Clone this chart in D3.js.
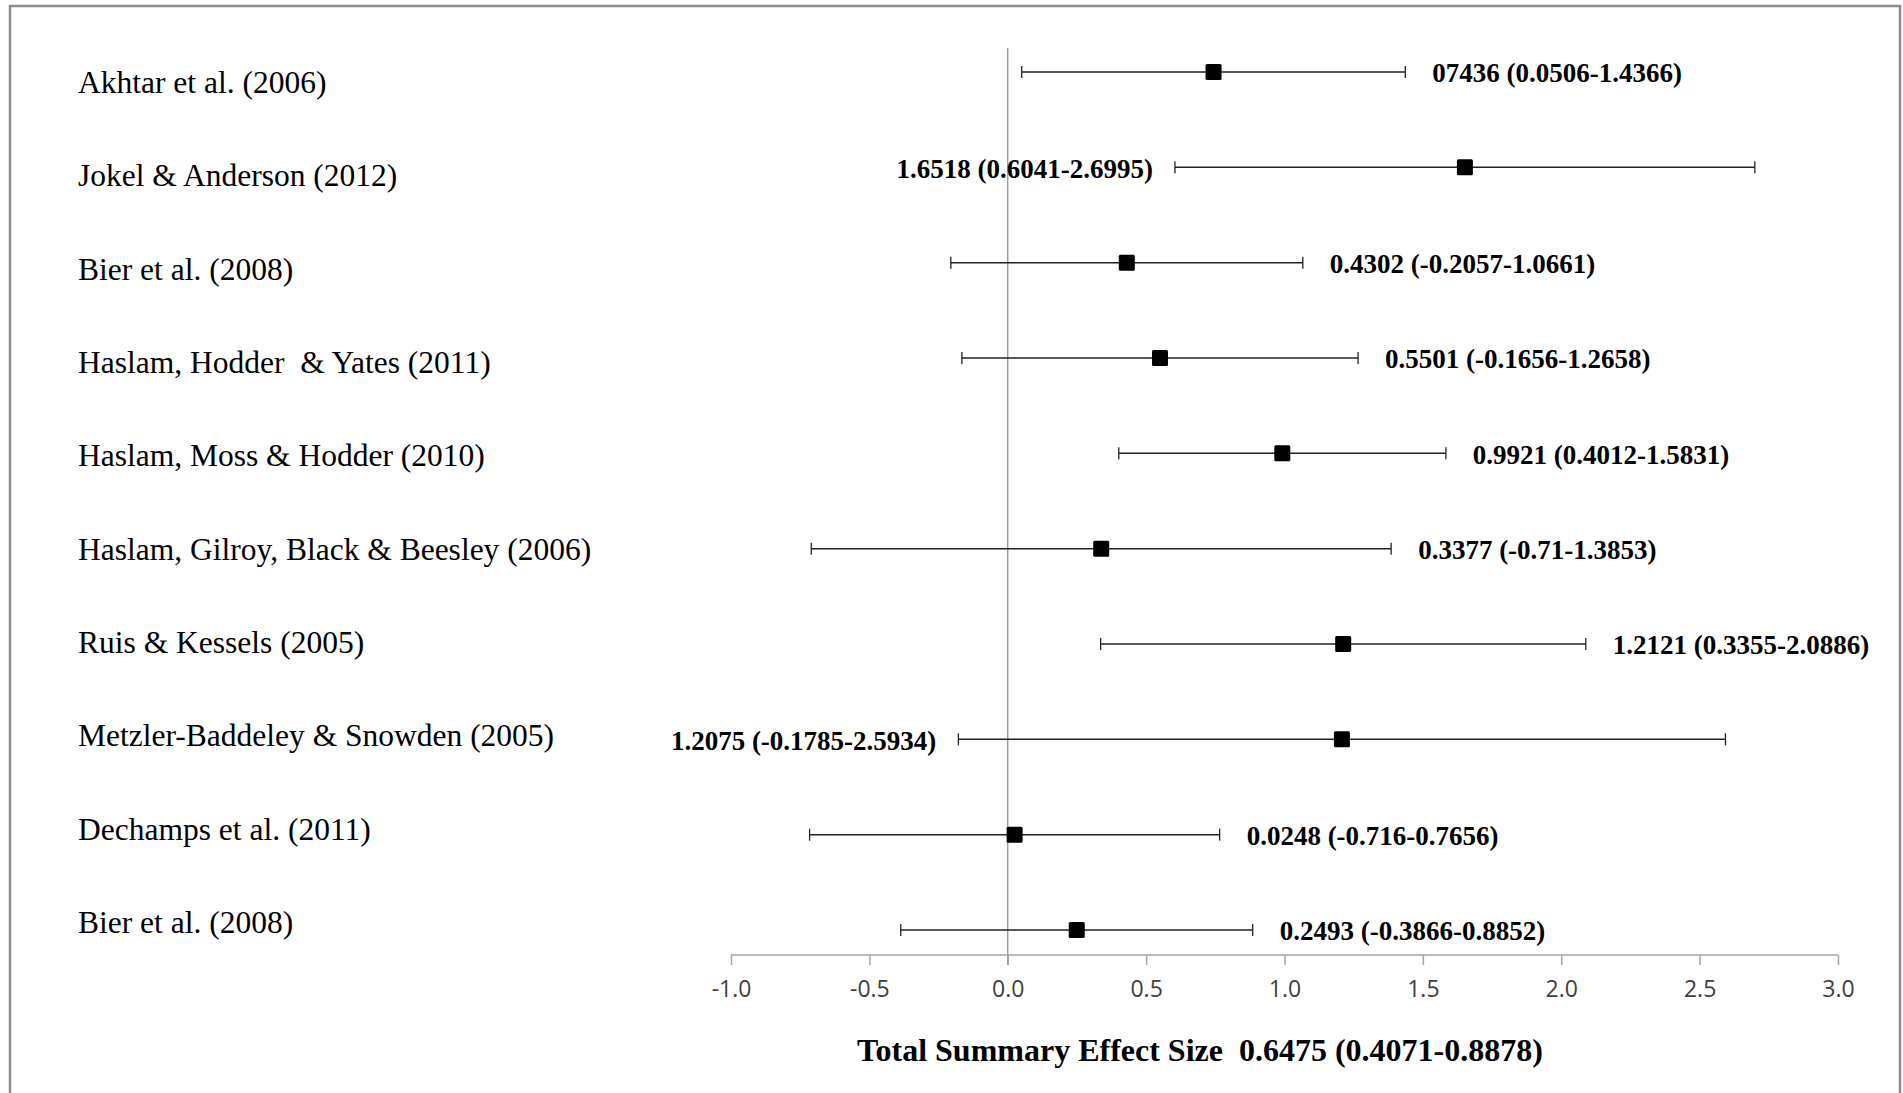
<!DOCTYPE html>
<html>
<head>
<meta charset="utf-8">
<script src="https://cdn.jsdelivr.net/npm/d3@7"></script>
<style>
  html, body { margin: 0; padding: 0; background: #fff; }
  svg { display: block; }
  .study { font: 31.5px "Liberation Serif", "Times New Roman", serif; fill: #000; }
  .est { font: bold 27px "Liberation Serif", "Times New Roman", serif; fill: #000; }
  .title { font: bold 32px "Liberation Serif", "Times New Roman", serif; fill: #000; white-space: pre; }
  .axis text { font: 23px "Open Sans", sans-serif; fill: #404040; }
  .axis path, .axis line { stroke: #a6a6a6; stroke-width: 1.5; }
</style>
</head>
<body>
<svg width="1903" height="1093"></svg>
<script>
// studies, top to bottom
var studies = [
  "Akhtar et al. (2006)",
  "Jokel & Anderson (2012)",
  "Bier et al. (2008)",
  "Haslam, Hodder  & Yates (2011)",
  "Haslam, Moss & Hodder (2010)",
  "Haslam, Gilroy, Black & Beesley (2006)",
  "Ruis & Kessels (2005)",
  "Metzler-Baddeley & Snowden (2005)",
  "Dechamps et al. (2011)",
  "Bier et al. (2008)"
];
var effect = [0.7436, 1.6518, 0.4302, 0.5501, 0.9921, 0.3377, 1.2121, 1.2075, 0.0248, 0.2493];
var lower  = [0.0506, 0.6041, -0.2057, -0.1656, 0.4012, -0.71, 0.3355, -0.1785, -0.716, -0.3866];
var upper  = [1.4366, 2.6995, 1.0661, 1.2658, 1.5831, 1.3853, 2.0886, 2.5934, 0.7656, 0.8852];
var estLabels = [
  "07436 (0.0506-1.4366)",
  "1.6518 (0.6041-2.6995)",
  "0.4302 (-0.2057-1.0661)",
  "0.5501 (-0.1656-1.2658)",
  "0.9921 (0.4012-1.5831)",
  "0.3377 (-0.71-1.3853)",
  "1.2121 (0.3355-2.0886)",
  "1.2075 (-0.1785-2.5934)",
  "0.0248 (-0.716-0.7656)",
  "0.2493 (-0.3866-0.8852)"
];
var tickValues = [-1, -0.5, 0, 0.5, 1, 1.5, 2, 2.5, 3];
var tickLabels = ["-1.0", "-0.5", "0.0", "0.5", "1.0", "1.5", "2.0", "2.5", "3.0"];
var summaryText = "Total Summary Effect Size  0.6475 (0.4071-0.8878)";

var svg = d3.select("svg");

var x = d3.scaleLinear().domain([-1, 3]).range([731, 1838]);
var y = d3.scalePoint().domain(d3.range(studies.length)).range([72, 930]);
// the study names sit in their own column, not quite level with the bars
var yLabel = d3.scalePoint().domain(d3.range(studies.length)).range([82, 922]);
var axisY = 955;

// frame
svg.append("rect")
  .attr("x", 10).attr("y", 6)
  .attr("width", 1890).attr("height", 1200)
  .attr("fill", "none")
  .attr("stroke", "#8c8c8c")
  .attr("stroke-width", 2.5);

// no-effect line
svg.append("line")
  .attr("x1", x(0)).attr("x2", x(0))
  .attr("y1", 48).attr("y2", axisY + 10)
  .attr("stroke", "#8c8c8c")
  .attr("stroke-width", 1.2);

// axis
svg.append("g")
  .attr("class", "axis")
  .attr("transform", `translate(0,${axisY})`)
  .call(d3.axisBottom(x)
    .tickValues(tickValues)
    .tickFormat((d, i) => tickLabels[i])
    .tickSize(10)
    .tickSizeOuter(0)
    .tickPadding(16))
  .call(g => g.select(".domain").attr("d", `M${x(-1)},0H${x(3)}`));

// study labels
svg.append("g").selectAll("text")
  .data(studies)
  .enter().append("text")
  .attr("class", "study")
  .attr("x", 78)
  .attr("y", (d, i) => yLabel(i))
  .attr("dy", "0.35em")
  .style("white-space", "pre")
  .text(d => d);

var rows = svg.append("g").selectAll("g")
  .data(d3.range(studies.length))
  .enter().append("g")
  .attr("transform", i => `translate(0,${y(i)})`);

rows.append("line")
  .attr("x1", i => x(lower[i])).attr("x2", i => x(upper[i]))
  .attr("stroke", "#222").attr("stroke-width", 1.5);

rows.append("line")
  .attr("x1", i => x(lower[i])).attr("x2", i => x(lower[i]))
  .attr("y1", -6).attr("y2", 6)
  .attr("stroke", "#222").attr("stroke-width", 1.3);

rows.append("line")
  .attr("x1", i => x(upper[i])).attr("x2", i => x(upper[i]))
  .attr("y1", -6).attr("y2", 6)
  .attr("stroke", "#222").attr("stroke-width", 1.3);

rows.append("rect")
  .attr("x", i => x(effect[i]) - 8)
  .attr("y", -8)
  .attr("width", 16).attr("height", 16)
  .attr("rx", 1.5)
  .attr("fill", "#000");

// estimate labels: left of the bar when the interval runs off to the right
rows.append("text")
  .attr("class", "est")
  .attr("x", i => upper[i] > 2.5 ? x(lower[i]) - 22 : x(upper[i]) + 27)
  .attr("text-anchor", i => upper[i] > 2.5 ? "end" : "start")
  .attr("dy", "0.38em")
  .style("white-space", "pre")
  .text(i => estLabels[i]);

// summary
svg.append("text")
  .attr("class", "title")
  .attr("x", 1200)
  .attr("y", 1061)
  .attr("text-anchor", "middle")
  .text(summaryText);
</script>
</body>
</html>
